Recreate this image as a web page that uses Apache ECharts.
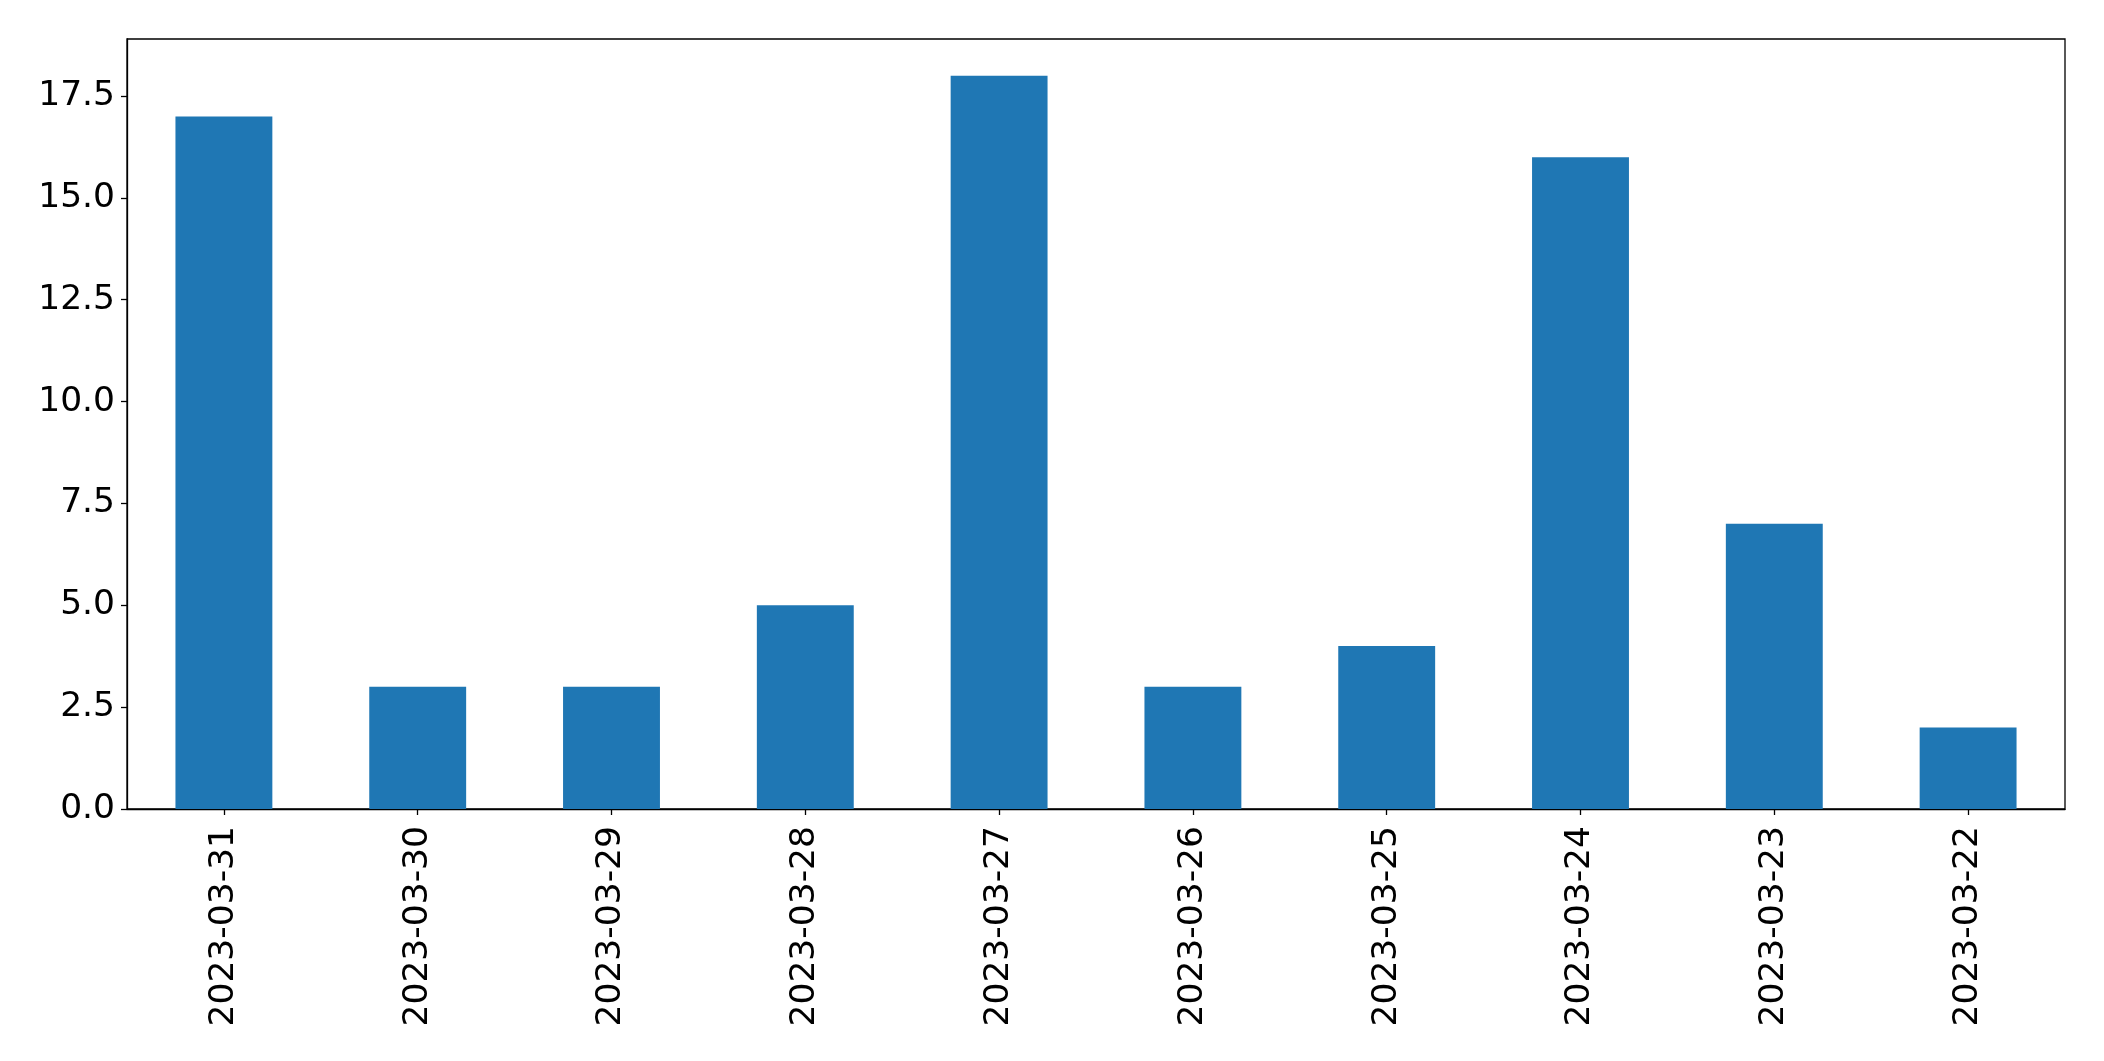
<!DOCTYPE html>
<html>
<head>
<meta charset="utf-8">
<script src="https://cdn.jsdelivr.net/npm/echarts@6/dist/echarts.min.js"></script>
<style>
html,body{margin:0;padding:0;background:#fff;}
#chart{width:2104px;height:1061px;}
</style>
</head>
<body>
<div id="chart"></div>
<script>
const categories = ['2023-03-31','2023-03-30','2023-03-29','2023-03-28','2023-03-27','2023-03-26','2023-03-25','2023-03-24','2023-03-23','2023-03-22'];
const values = [17, 3, 3, 5, 18, 3, 4, 16, 7, 2];
const yTicks = [0, 2.5, 5, 7.5, 10, 12.5, 15, 17.5];
const yMax = 18.9;

const chart = echarts.init(document.getElementById('chart'), null, {renderer: 'canvas'});
const font = 'DejaVu Sans';
chart.setOption({
  animation: false,
  backgroundColor: '#ffffff',
  grid: {left: 127, right: 39, top: 39, bottom: 252, show: true, borderColor: '#000', borderWidth: 1.3, backgroundColor: 'transparent'},
  xAxis: {
    type: 'category',
    data: categories,
    axisLine: {show: true, lineStyle: {color: '#000', width: 1.3}},
    axisTick: {show: true, alignWithLabel: true, length: 6, lineStyle: {color: '#000', width: 1.3}},
    axisLabel: {rotate: 90, margin: 17, color: '#000', fontSize: 34.5, fontFamily: font, interval: 0},
    splitLine: {show: false}
  },
  yAxis: {
    type: 'value',
    min: 0,
    max: yMax,
    axisLine: {show: true, lineStyle: {color: '#000', width: 1.3}},
    axisTick: {show: true, length: 6, customValues: yTicks, lineStyle: {color: '#000', width: 1.3}},
    axisLabel: {customValues: yTicks, margin: 12, color: '#000', fontSize: 34.5, fontFamily: font,
      formatter: v => v.toFixed(1)},
    splitLine: {show: false}
  },
  series: [{
    type: 'bar',
    data: values,
    barCategoryGap: '50%',
    itemStyle: {color: '#1f77b4'}
  }]
});
</script>
</body>
</html>
